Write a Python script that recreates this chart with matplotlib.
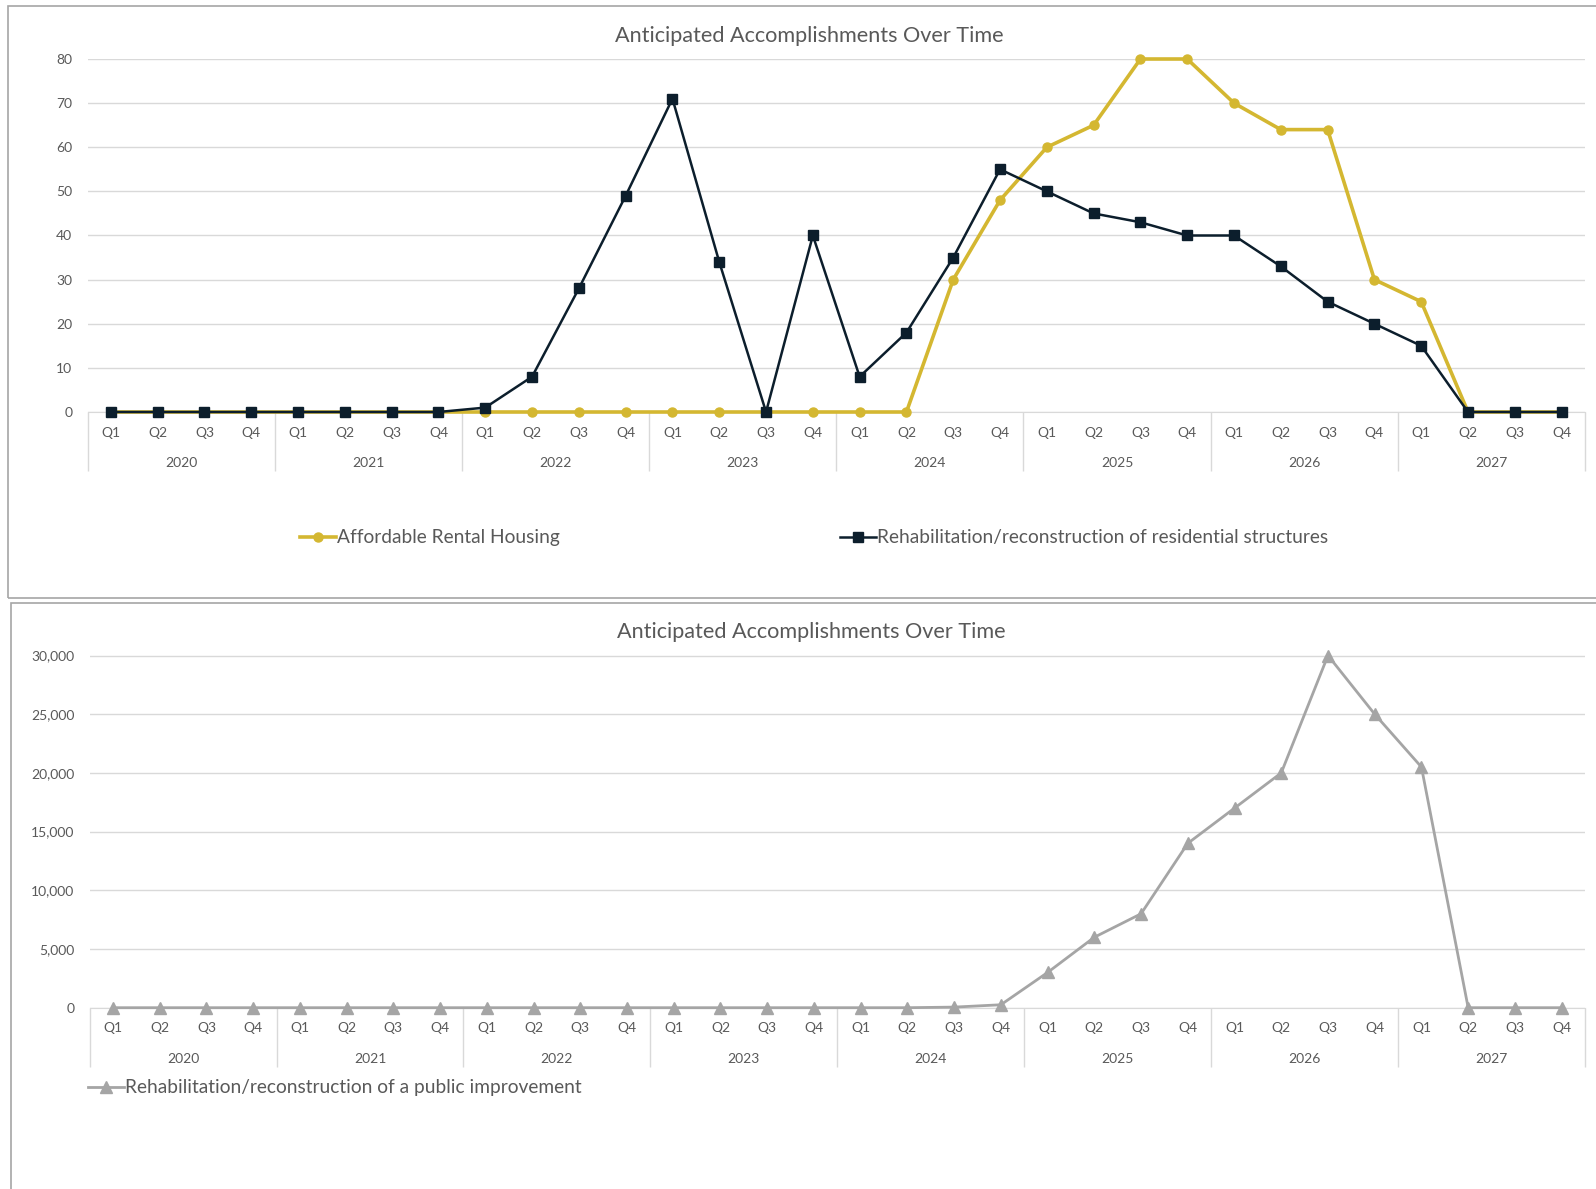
import matplotlib.pyplot as plt
from matplotlib.patches import Rectangle
from matplotlib.ticker import FuncFormatter

plt.rcParams['font.family'] = ['Lato', 'DejaVu Sans']

years = ['2020', '2021', '2022', '2023', '2024', '2025', '2026', '2027']
quarters = ['Q1', 'Q2', 'Q3', 'Q4']

affordable_rental = [0, 0, 0, 0, 0, 0, 0, 0,
                     0, 0, 0, 0, 0, 0, 0, 0,
                     0, 0, 30, 48, 60, 65, 80, 80,
                     70, 64, 64, 30, 25, 0, 0, 0]
residential_rehab = [0, 0, 0, 0, 0, 0, 0, 0,
                     1, 8, 28, 49, 71, 34, 0, 40,
                     8, 18, 35, 55, 50, 45, 43, 40,
                     40, 33, 25, 20, 15, 0, 0, 0]
public_improvement = [0, 0, 0, 0, 0, 0, 0, 0,
                      0, 0, 0, 0, 0, 0, 0, 0,
                      0, 0, 50, 250, 3000, 6000, 8000, 14000,
                      17000, 20000, 30000, 25000, 20500, 0, 0, 0]

TEXT = '#595959'
GRID = '#D9D9D9'
GOLD = '#D4B731'
NAVY = '#0C1E2C'
GRAY = '#A5A5A5'
TICK_FS = 10
LEGEND_FS = 13.8
TITLE_FS = 15.6

W, H = 1596, 1189
fig = plt.figure(figsize=(W / 100, H / 100), dpi=100)


def box(x0, y0, x1, y1):
    # pixel box (top-left origin) -> figure fraction
    return [x0 / W, 1 - y1 / H, (x1 - x0) / W, (y1 - y0) / H]


def setup_axis(ax, ymax, ystep, fmt=None):
    n = len(years) * len(quarters)
    ax.set_xlim(-0.5, n - 0.5)
    ax.set_ylim(0, ymax)
    ax.set_yticks(range(0, ymax + 1, ystep))
    if fmt:
        ax.yaxis.set_major_formatter(FuncFormatter(fmt))
    ax.grid(axis='y', color=GRID, linewidth=1.0)
    ax.set_axisbelow(True)
    for s in ['top', 'right', 'left']:
        ax.spines[s].set_visible(False)
    ax.spines['bottom'].set_color(GRID)
    ax.set_xticks(range(n))
    ax.set_xticklabels(quarters * len(years))
    # year separators hang below the axis as long minor ticks
    ax.set_xticks([i * 4 - 0.5 for i in range(len(years) + 1)], minor=True)
    ax.tick_params(axis='x', which='major', length=0, pad=10.5,
                   labelsize=TICK_FS, labelcolor=TEXT)
    ax.tick_params(axis='x', which='minor', length=42.5, color=GRID, width=1)
    ax.tick_params(axis='y', length=0, pad=11, labelsize=TICK_FS, labelcolor=TEXT)
    for i, yr in enumerate(years):
        ax.annotate(yr, xy=(i * 4 + 1.5, 0), xycoords=('data', 'axes fraction'),
                    xytext=(0, -37), textcoords='offset points',
                    ha='center', va='center', fontsize=TICK_FS, color=TEXT)


# panel frames
fig.add_artist(Rectangle((8 / W, 1 - 597.5 / H), 1.2, (597.5 - 5.5) / H,
                         transform=fig.transFigure, fill=False,
                         edgecolor='#A6A6A6', linewidth=1.2))
fig.add_artist(Rectangle((10.5 / W, -0.1), 1.2, 0.1 + 1 - 602.5 / H,
                         transform=fig.transFigure, fill=False,
                         edgecolor='#A6A6A6', linewidth=1.2))

# upper chart
ax1 = fig.add_axes(box(87.5, 59, 1585, 412))
setup_axis(ax1, 80, 10)
x = range(len(affordable_rental))
ax1.plot(x, affordable_rental, color=GOLD, linewidth=2.6, marker='o',
         markersize=6.5, label='Affordable Rental Housing', zorder=3, clip_on=False)
ax1.plot(x, residential_rehab, color=NAVY, linewidth=1.8, marker='s',
         markersize=7.5, label='Rehabilitation/reconstruction of residential structures',
         zorder=4, clip_on=False)
fig.text(809 / W, 1 - 35.5 / H, 'Anticipated Accomplishments Over Time',
         ha='center', va='center', fontsize=TITLE_FS, color=TEXT)
fig.legend(handles=ax1.get_lines(), loc='center', bbox_to_anchor=(814 / W, 1 - 538 / H),
           ncol=2, frameon=False, fontsize=LEGEND_FS, labelcolor=TEXT,
           handlelength=1.9, handletextpad=0.05, columnspacing=14.6,
           borderpad=0, borderaxespad=0)

# lower chart
ax2 = fig.add_axes(box(89.6, 655.5, 1585, 1007.7))
setup_axis(ax2, 30000, 5000, fmt=lambda v, p: f'{v:,.0f}')
ax2.plot(range(len(public_improvement)), public_improvement, color=GRAY,
         linewidth=2.0, marker='^', markersize=8,
         label='Rehabilitation/reconstruction of a public improvement',
         zorder=3, clip_on=False)
fig.text(811 / W, 1 - 632 / H, 'Anticipated Accomplishments Over Time',
         ha='center', va='center', fontsize=TITLE_FS, color=TEXT)
fig.legend(handles=ax2.get_lines(), loc='center left', bbox_to_anchor=(88 / W, 1 - 1088 / H),
           frameon=False, fontsize=LEGEND_FS, labelcolor=TEXT,
           handlelength=1.9, handletextpad=0.05, borderpad=0, borderaxespad=0)

fig.savefig('out.png', dpi=100)
